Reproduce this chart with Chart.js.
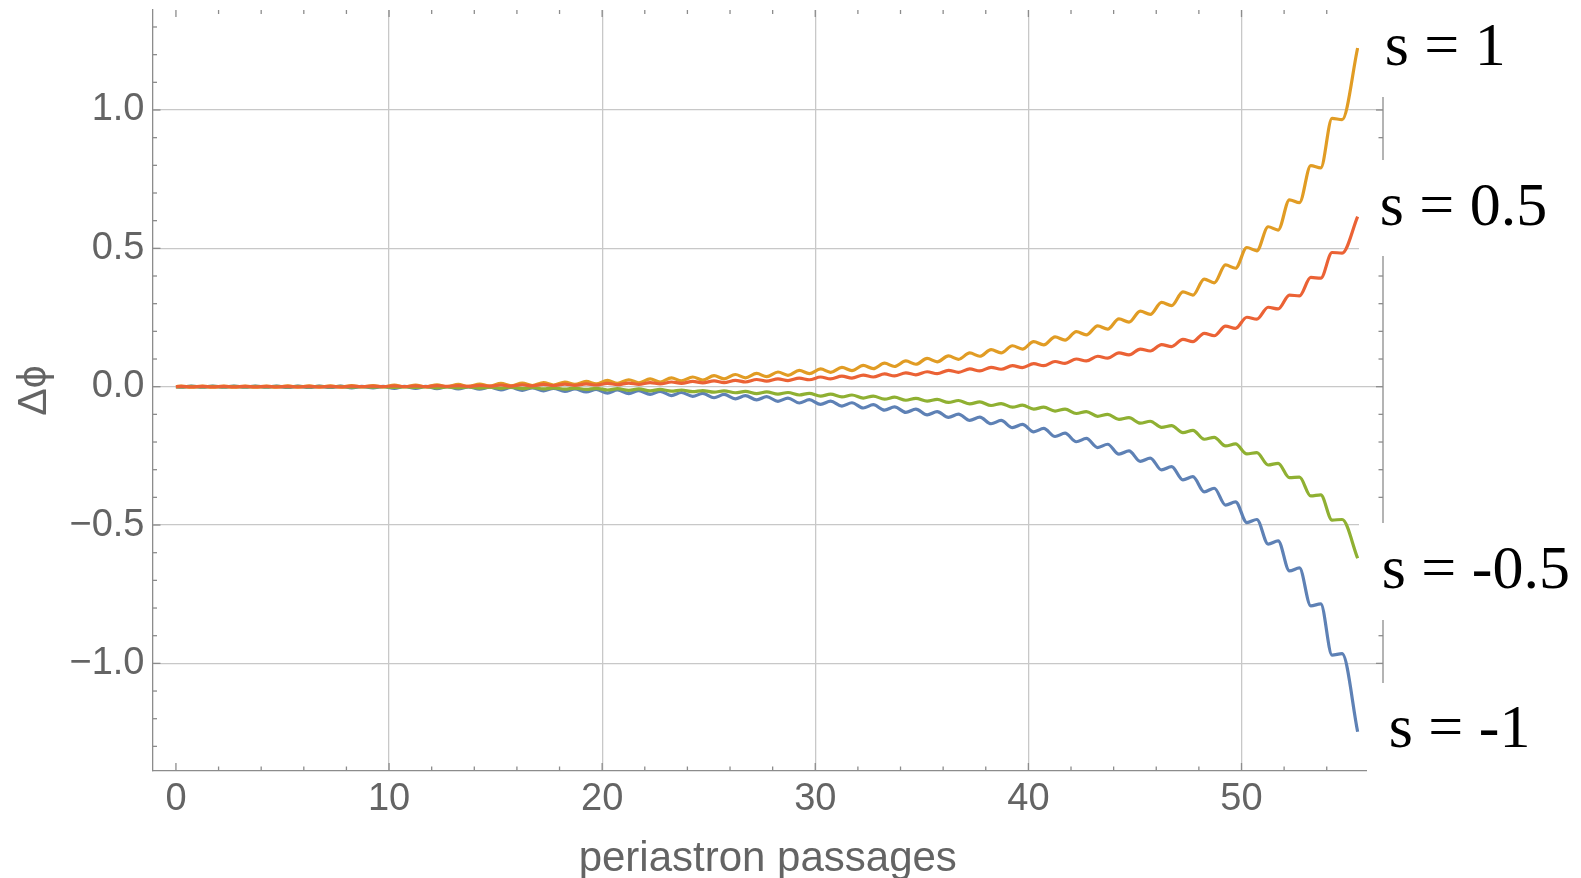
<!DOCTYPE html>
<html>
<head>
<meta charset="utf-8">
<title>Δϕ vs periastron passages</title>
<script src="https://cdn.jsdelivr.net/npm/chart.js@4.4.1/dist/chart.umd.min.js"></script>
<style>
  html, body { margin: 0; padding: 0; background: #ffffff; }
  #myChart { display: block; }
</style>
</head>
<body>
<canvas id="myChart" width="1581" height="878"></canvas>
<script>
let myChart; // instancia global de la gráfica

// Posiciones en x (pasos por el periastro) donde se leyó cada valor:
// justo después de cada salto (n + 0.25) y justo antes del siguiente (n + 0.72)
const pasos = [0,
  0.25, 0.72, 1.25, 1.72, 2.25, 2.72, 3.25, 3.72, 4.25, 4.72,
  5.25, 5.72, 6.25, 6.72, 7.25, 7.72, 8.25, 8.72, 9.25, 9.72,
  10.25, 10.72, 11.25, 11.72, 12.25, 12.72, 13.25, 13.72, 14.25, 14.72,
  15.25, 15.72, 16.25, 16.72, 17.25, 17.72, 18.25, 18.72, 19.25, 19.72,
  20.25, 20.72, 21.25, 21.72, 22.25, 22.72, 23.25, 23.72, 24.25, 24.72,
  25.25, 25.72, 26.25, 26.72, 27.25, 27.72, 28.25, 28.72, 29.25, 29.72,
  30.25, 30.72, 31.25, 31.72, 32.25, 32.72, 33.25, 33.72, 34.25, 34.72,
  35.25, 35.72, 36.25, 36.72, 37.25, 37.72, 38.25, 38.72, 39.25, 39.72,
  40.25, 40.72, 41.25, 41.72, 42.25, 42.72, 43.25, 43.72, 44.25, 44.72,
  45.25, 45.72, 46.25, 46.72, 47.25, 47.72, 48.25, 48.72, 49.25, 49.72,
  50.25, 50.72, 51.25, 51.72, 52.25, 52.72, 53.25, 53.72, 54.25, 54.72,
  55.45];

// Δϕ para s = 1
const serieS1 = [0,
  0.002, -0.002, 0.002, -0.002, 0.002, -0.002, 0.002, -0.002, 0.002, -0.002,
  0.003, -0.002, 0.003, -0.002, 0.003, -0.002, 0.004, -0.001, 0.004, -0.001,
  0.006, -0.001, 0.006, -0.001, 0.007, 0.000, 0.008, 0.001, 0.009, 0.002,
  0.012, 0.003, 0.013, 0.004, 0.015, 0.006, 0.017, 0.008, 0.019, 0.010,
  0.023, 0.012, 0.025, 0.014, 0.028, 0.017, 0.032, 0.021, 0.035, 0.024,
  0.040, 0.028, 0.044, 0.032, 0.048, 0.036, 0.053, 0.041, 0.059, 0.047,
  0.064, 0.052, 0.070, 0.058, 0.077, 0.065, 0.085, 0.073, 0.093, 0.081,
  0.102, 0.090, 0.111, 0.099, 0.122, 0.110, 0.134, 0.122, 0.148, 0.136,
  0.163, 0.151, 0.180, 0.168, 0.199, 0.187, 0.220, 0.208, 0.245, 0.233,
  0.273, 0.261, 0.305, 0.293, 0.343, 0.331, 0.389, 0.375, 0.440, 0.428,
  0.503, 0.491, 0.578, 0.566, 0.675, 0.665, 0.799, 0.791, 0.970, 0.965,
  1.224];

// Δϕ para s = 0.5
const serieS05 = [0,
  0.001, -0.001, 0.001, -0.001, 0.001, -0.001, 0.001, -0.001, 0.001, -0.001,
  0.001, -0.001, 0.001, -0.001, 0.001, -0.001, 0.002, 0.000, 0.002, 0.000,
  0.003, 0.000, 0.003, 0.000, 0.004, 0.001, 0.004, 0.001, 0.005, 0.002,
  0.006, 0.002, 0.007, 0.003, 0.008, 0.004, 0.009, 0.005, 0.010, 0.006,
  0.012, 0.007, 0.013, 0.008, 0.015, 0.010, 0.017, 0.012, 0.019, 0.014,
  0.021, 0.015, 0.023, 0.017, 0.026, 0.020, 0.028, 0.022, 0.031, 0.025,
  0.035, 0.028, 0.038, 0.031, 0.042, 0.035, 0.046, 0.039, 0.050, 0.043,
  0.054, 0.047, 0.059, 0.052, 0.064, 0.057, 0.070, 0.063, 0.076, 0.069,
  0.083, 0.076, 0.091, 0.084, 0.100, 0.093, 0.110, 0.103, 0.122, 0.115,
  0.136, 0.129, 0.152, 0.145, 0.171, 0.163, 0.193, 0.184, 0.219, 0.211,
  0.251, 0.244, 0.287, 0.281, 0.331, 0.328, 0.395, 0.392, 0.485, 0.483,
  0.615];

// Δϕ para s = -0.5
const serieSm05 = [0,
  -0.001, 0.001, -0.001, 0.001, -0.001, 0.001, -0.001, 0.001, -0.001, 0.001,
  -0.001, 0.001, -0.001, 0.001, -0.001, 0.001, -0.002, 0.000, -0.002, 0.000,
  -0.003, 0.000, -0.003, 0.000, -0.004, -0.001, -0.004, -0.001, -0.005, -0.002,
  -0.006, -0.002, -0.007, -0.003, -0.008, -0.004, -0.009, -0.005, -0.010, -0.006,
  -0.012, -0.007, -0.013, -0.008, -0.015, -0.010, -0.016, -0.012, -0.018, -0.014,
  -0.020, -0.015, -0.022, -0.017, -0.025, -0.019, -0.027, -0.021, -0.030, -0.024,
  -0.034, -0.027, -0.037, -0.030, -0.041, -0.034, -0.045, -0.038, -0.049, -0.042,
  -0.052, -0.046, -0.057, -0.050, -0.062, -0.055, -0.068, -0.061, -0.074, -0.067,
  -0.081, -0.074, -0.088, -0.081, -0.097, -0.090, -0.107, -0.100, -0.118, -0.112,
  -0.132, -0.125, -0.147, -0.141, -0.166, -0.158, -0.190, -0.183, -0.214, -0.207,
  -0.243, -0.238, -0.283, -0.277, -0.329, -0.327, -0.395, -0.391, -0.482, -0.480,
  -0.620];

// Δϕ para s = -1
const serieSm1 = [0,
  -0.002, 0.002, -0.002, 0.002, -0.002, 0.002, -0.002, 0.002, -0.002, 0.002,
  -0.003, 0.002, -0.003, 0.002, -0.003, 0.002, -0.004, 0.001, -0.004, 0.001,
  -0.006, 0.001, -0.006, 0.001, -0.007, 0.000, -0.008, -0.001, -0.009, -0.002,
  -0.012, -0.003, -0.013, -0.004, -0.015, -0.006, -0.017, -0.008, -0.019, -0.010,
  -0.023, -0.012, -0.025, -0.014, -0.028, -0.017, -0.032, -0.021, -0.035, -0.024,
  -0.040, -0.028, -0.044, -0.032, -0.048, -0.036, -0.053, -0.041, -0.059, -0.047,
  -0.064, -0.052, -0.070, -0.058, -0.077, -0.065, -0.085, -0.073, -0.093, -0.081,
  -0.102, -0.090, -0.111, -0.099, -0.122, -0.110, -0.134, -0.122, -0.148, -0.136,
  -0.163, -0.151, -0.180, -0.168, -0.199, -0.187, -0.220, -0.208, -0.244, -0.232,
  -0.270, -0.258, -0.301, -0.289, -0.337, -0.325, -0.380, -0.367, -0.428, -0.416,
  -0.491, -0.480, -0.569, -0.557, -0.666, -0.655, -0.792, -0.785, -0.970, -0.965,
  -1.247];

const etiquetas = ['s = 1', 's = 0.5', 's = -0.5', 's = -1'];

// Marcas de los ejes
const ticksX = [0, 10, 20, 30, 40, 50];
const ticksXMenores = [2, 4, 6, 8, 12, 14, 16, 18, 22, 24, 26, 28, 32, 34, 36, 38,
  42, 44, 46, 48, 52, 54];
const ticksY = [-1, -0.5, 0, 0.5, 1];
const etiquetasY = ['\u22121.0', '\u22120.5', '0.0', '0.5', '1.0'];
const ticksYMenores = [-1.3, -1.2, -1.1, -0.9, -0.8, -0.7, -0.6, -0.4, -0.3, -0.2, -0.1,
  0.1, 0.2, 0.3, 0.4, 0.6, 0.7, 0.8, 0.9, 1.1, 1.2, 1.3];

// Estilos
const colores = ['#E19C24', '#EB6235', '#8FB032', '#5E81B5'];
const ordenDibujo = [2, 0, 1, 3];      // el rojo queda encima, el azul debajo
const colorTexto = '#646464';
const colorMarco = '#8c8c8c';
const colorRejilla = '#c8c8c8';
// desplazamiento de cada etiqueta respecto al final de su curva
const offsetsEtiqueta = [[27, 17], [22, 8], [24, 30], [31, 15]];
// recuadros blancos que tapan el marco derecho detrás de las etiquetas
const recuadros = [[1359, 0, 1581, 97], [1359, 160, 1581, 256], [1359, 523, 1581, 620], [1367, 683, 1581, 878]];

function armarPuntos(valores) {
    return pasos.map((x, i) => ({ x: x, y: valores[i] }));
}

// Plugin para el marco estilo Mathematica: marcas hacia dentro, marco derecho y etiquetas
const marcoPlugin = {
    id: 'marco',
    afterDraw(chart) {
        const ctx = chart.ctx;
        const area = chart.chartArea;
        const sx = chart.scales.x;
        const sy = chart.scales.y;

        function seg(x1, y1, x2, y2) {
            ctx.beginPath();
            ctx.moveTo(x1, y1);
            ctx.lineTo(x2, y2);
            ctx.stroke();
        }

        ctx.save();
        ctx.strokeStyle = colorMarco;
        ctx.lineWidth = 1.3;

        // marco derecho
        seg(area.right, area.top, area.right, area.bottom);

        // marcas eje x (abajo y arriba)
        ticksX.forEach(v => {
            const px = sx.getPixelForValue(v);
            seg(px, area.bottom, px, area.bottom - 8);
            seg(px, area.top, px, area.top + 7);
        });
        ticksXMenores.forEach(v => {
            const px = sx.getPixelForValue(v);
            seg(px, area.bottom, px, area.bottom - 4.5);
            seg(px, area.top, px, area.top + 4);
        });

        // marcas eje y (izquierda y derecha)
        ticksY.forEach(v => {
            const py = sy.getPixelForValue(v);
            seg(area.left, py, area.left + 8, py);
            seg(area.right, py, area.right - 7, py);
        });
        ticksYMenores.forEach(v => {
            const py = sy.getPixelForValue(v);
            seg(area.left, py, area.left + 4.5, py);
            seg(area.right, py, area.right - 4.5, py);
        });

        // recuadros blancos y etiquetas de cada curva
        ctx.fillStyle = '#ffffff';
        recuadros.forEach(r => ctx.fillRect(r[0], r[1], r[2] - r[0], r[3] - r[1]));

        ctx.fillStyle = '#000000';
        ctx.font = '62px "Liberation Serif", "Times New Roman", serif';
        ctx.textAlign = 'left';
        ctx.textBaseline = 'alphabetic';
        chart.data.datasets.forEach((ds, i) => {
            const meta = chart.getDatasetMeta(i);
            const ultimo = meta.data[meta.data.length - 1];
            ctx.fillText(ds.label, ultimo.x + offsetsEtiqueta[i][0], ultimo.y + offsetsEtiqueta[i][1]);
        });
        ctx.restore();
    }
};

function drawChart() {
    const ctx = document.getElementById('myChart').getContext('2d');

    if (myChart) {
        myChart.destroy();
    }

    const series = [serieS1, serieS05, serieSm05, serieSm1];

    myChart = new Chart(ctx, {
        type: 'line',
        data: {
            datasets: series.map((valores, i) => ({
                label: etiquetas[i],
                data: armarPuntos(valores),
                borderColor: colores[i],
                borderWidth: 3.2,
                pointRadius: 0,
                fill: false,
                cubicInterpolationMode: 'monotone',
                order: ordenDibujo[i]
            }))
        },
        options: {
            responsive: false,
            animation: false,
            devicePixelRatio: 1,
            layout: {
                padding: { top: 10, right: 198, bottom: 0, left: 0 }
            },
            scales: {
                x: {
                    type: 'linear',
                    min: -1.1,
                    max: 56.64,
                    afterFit: (scale) => {
                        scale.height = 107;
                        scale.paddingLeft = 0;
                        scale.paddingRight = 0;
                    },
                    afterBuildTicks: (scale) => { scale.ticks = ticksX.map(v => ({ value: v })); },
                    grid: {
                        color: (c) => (c.tick && c.tick.value === 0) ? 'rgba(0,0,0,0)' : colorRejilla,
                        lineWidth: 1.3,
                        drawTicks: false
                    },
                    border: { display: true, color: colorMarco, width: 1.3 },
                    ticks: {
                        color: colorTexto,
                        padding: 6,
                        maxRotation: 0,
                        font: { family: '"Liberation Sans", Arial, sans-serif', size: 38 },
                        callback: (v) => String(v)
                    },
                    title: {
                        display: true,
                        text: 'periastron passages',
                        color: colorTexto,
                        font: { family: '"Liberation Sans", Arial, sans-serif', size: 42, lineHeight: 0.9 },
                        padding: { top: 0, bottom: 0 }
                    }
                },
                y: {
                    type: 'linear',
                    min: -1.389,
                    max: 1.3614,
                    afterFit: (scale) => {
                        scale.width = 152.5;
                        scale.paddingTop = 0;
                        scale.paddingBottom = 0;
                    },
                    afterBuildTicks: (scale) => { scale.ticks = ticksY.map(v => ({ value: v })); },
                    grid: {
                        color: colorRejilla,
                        lineWidth: 1.3,
                        drawTicks: false
                    },
                    border: { display: true, color: colorMarco, width: 1.3 },
                    ticks: {
                        color: colorTexto,
                        padding: 8,
                        font: { family: '"Liberation Sans", Arial, sans-serif', size: 38 },
                        callback: (v, idx) => etiquetasY[idx]
                    },
                    title: {
                        display: true,
                        text: 'Δϕ',
                        color: colorTexto,
                        font: { family: '"Liberation Sans", Arial, sans-serif', size: 41 },
                        padding: { top: 10, bottom: 0 }
                    }
                }
            },
            plugins: {
                legend: { display: false },
                tooltip: { enabled: false }
            }
        },
        plugins: [marcoPlugin]
    });
}

window.onload = () => {
    drawChart();
};
</script>
</body>
</html>
